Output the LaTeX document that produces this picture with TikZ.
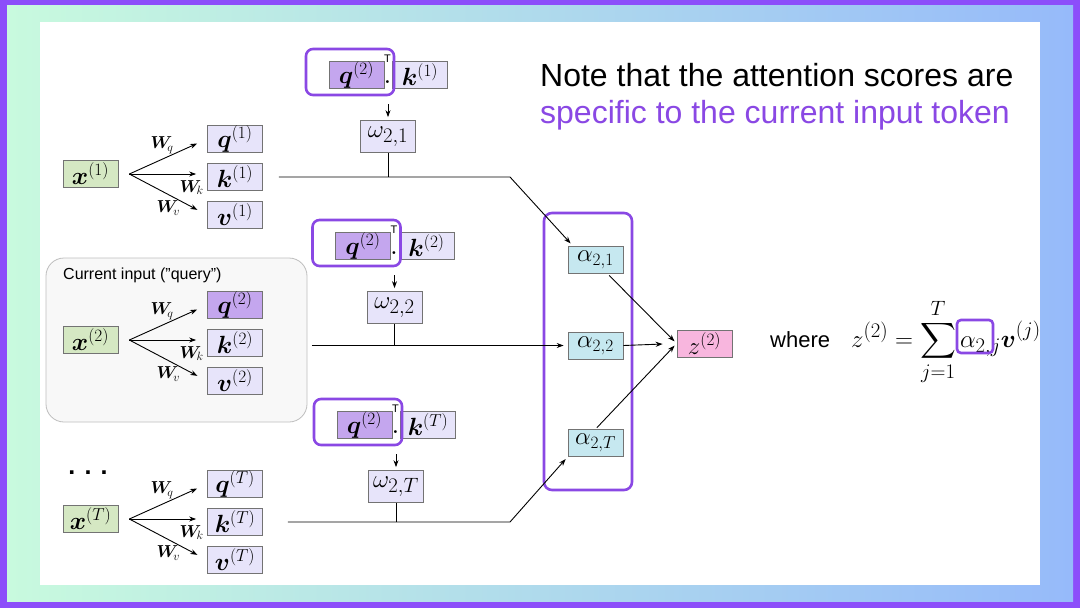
\documentclass[tikz,border=0pt]{standalone}
\usepackage{amsmath,bm}
\usepackage{fontspec}
\setsansfont{Liberation Sans}
\usetikzlibrary{arrows.meta,calc}
\definecolor{framepurple}{RGB}{140,78,250}
\definecolor{mint}{RGB}{200,250,222}
\definecolor{skyblue}{RGB}{150,186,250}
\definecolor{hlpurple}{RGB}{138,72,228}
\definecolor{boxedge}{RGB}{115,115,115}
\definecolor{qkvfill}{RGB}{231,228,250}
\definecolor{qhl}{RGB}{196,166,238}
\definecolor{xgreen}{RGB}{213,232,195}
\definecolor{alphacyan}{RGB}{198,232,240}
\definecolor{zpink}{RGB}{248,182,222}
\definecolor{curfill}{RGB}{248,248,248}
\definecolor{curedge}{RGB}{190,190,190}
\begin{document}
\begin{tikzpicture}[x=1pt,y=-1pt,>={Stealth[length=7pt,width=5pt]},
	vecbox/.style={draw=boxedge,line width=0.7pt,fill=#1,minimum width=55pt,minimum height=27pt,inner sep=0pt,font=\fontsize{24}{26}\selectfont},
	vecbox/.default=qkvfill,
	hlbox/.style={draw=hlpurple,line width=2.6pt,rounded corners=7pt},
	link/.style={line width=0.9pt},
	wlabel/.style={font=\fontsize{17}{17}\selectfont,inner sep=1pt}]
	% Nền và khung
	\useasboundingbox (0,0) rectangle (1080,608);
	\fill[framepurple] (0,0) rectangle (1080,608);
	\shade[left color=mint,right color=skyblue] (7,5) rectangle (1073,601);
	\fill[white] (40,22) rectangle (1040,585);
	% Khung đầu vào hiện tại
	\draw[draw=curedge,fill=curfill,line width=0.8pt,rounded corners=18pt] (46,258) rectangle (307,422);
	\node[anchor=base west,inner sep=0pt,font=\sffamily\fontsize{16}{16}\selectfont] (curlbl) at (63,279) {Current input ("query")};
	% Lệnh vẽ một token: x -> q, k, v
	\def\tokengroup#1#2#3{
		\node[vecbox=xgreen] (x#1) at (90.5,#2-3) {$\bm{x}^{(#1)}$};
		\node[vecbox=#3] (q#1) at (235,#2-38) {$\bm{q}^{(#1)}$};
		\node[vecbox] (k#1) at (235,#2) {$\bm{k}^{(#1)}$};
		\node[vecbox] (v#1) at (235,#2+38) {$\bm{v}^{(#1)}$};
		\coordinate (f#1) at ($(x#1.east)+(11,0)$);
		\draw[link,->,shorten >=11pt] (f#1) -- (q#1.west) node[pos=0.42,above,yshift=4pt,wlabel] {$\bm{W}_{\!q}$};
		\draw[link,->,shorten >=11pt] (f#1) -- (f#1 -| k#1.west) node[pos=0.8,below=5pt,wlabel] {$\bm{W}_{\!k}$};
		\draw[link,->,shorten >=11pt] (f#1) -- (v#1.west) node[pos=0.5,below=5pt,wlabel] {$\bm{W}_{\!v}$};
	}
	\tokengroup{1}{177}{qkvfill}
	\tokengroup{2}{343}{qhl}
	\tokengroup{T}{522}{qkvfill}
	\node[font=\sffamily\bfseries\fontsize{25}{25}\selectfont] (dots) at (88,473) {. . .};
	% Lệnh vẽ tích vô hướng q(2).k -> omega
	\def\scoregroup#1#2#3{
		\node[vecbox=qhl] (qs#1) at (#2,#3) {$\bm{q}^{(2)}$};
		\node[vecbox] (ks#1) at (#2+63.5,#3) {$\bm{k}^{(#1)}$};
		\node[hlbox,minimum width=88pt,minimum height=46pt] (hl#1) at (#2-6.5,#3-2.5) {};
		\node[inner sep=0pt,font=\sffamily\fontsize{11}{11}\selectfont] (tp#1) at (#2+31,#3-16) {T};
		\node[inner sep=0pt,font=\bfseries\fontsize{20}{20}\selectfont] (dt#1) at (#2+31,#3+7.5) {.};
		\node[vecbox,minimum height=32pt,font=\fontsize{28}{30}\selectfont] (om#1) at (#2+31.5,#3+62) {$\omega_{2,#1}$};
		\draw[link,->,shorten <=8pt,shorten >=3pt] (hl#1.south -| om#1.north) -- (om#1.north);
	}
	\scoregroup{1}{356.5}{74.5}
	\scoregroup{2}{363}{245.5}
	\scoregroup{T}{364.5}{424.5}
	% Cột alpha và đầu ra z
	\node[vecbox=alphacyan] (a1) at (595.5,259.5) {$\alpha_{2,1}$};
	\node[vecbox=alphacyan] (a2) at (595.5,345.5) {$\alpha_{2,2}$};
	\node[vecbox=alphacyan] (aT) at (595.5,443) {$\alpha_{2,T}$};
	\draw[hlbox,rounded corners=8pt] (544,213) rectangle (632,490);
	\node[vecbox=zpink] (zz) at (704.5,343.5) {$z^{(2)}$};
	% Các đường nối
	\coordinate (b1) at (510,177);
	\coordinate (bT) at (510,522);
	\draw[link,->,shorten <=16pt,shorten >=3pt] (k1.east) -- (b1) -- ($(a1.north west)+(5,0)$);
	\draw[link] (om1.south) -- (om1.south |- b1);
	\draw[link,->,shorten <=49pt,shorten >=4pt] (a2.west -| k2.east) -- (a2.west);
	\draw[link] (om2.south) -- (om2.south |- a2.west);
	\draw[link,->,shorten <=25pt,shorten >=3pt] (kT.east) -- (bT) -- (aT.south west);
	\draw[link] (omT.south) -- (omT.south |- bT);
	\draw[link,->,shorten <=3pt,shorten >=3pt] (a1.-50) -- (zz.west);
	\draw[link,->,shorten >=14pt] (a2.east) -- (zz.west);
	\draw[link,->,shorten <=2pt,shorten >=3pt] (aT.north) -- (zz.west);
	% Chú thích bên phải
	\node[anchor=base west,inner sep=0pt,font=\sffamily\fontsize{32}{36}\selectfont] (note) at (540,86) {Note that the attention scores are};
	\node[anchor=base west,inner sep=0pt,font=\sffamily\fontsize{32}{36}\selectfont,text=hlpurple] (spec) at (540,123) {specific to the current input token};
	\node[anchor=base west,inner sep=0pt,font=\sffamily\fontsize{22}{26}\selectfont] (where) at (770,347) {where};
	\node[anchor=base west,inner sep=0pt,font=\fontsize{28}{30}\selectfont] (zsum) at (851,347) {$z^{(2)} = \displaystyle\sum_{j=1}^{T} \alpha_{2,j}\bm{v}^{(j)}$};
	\draw[hlbox,rounded corners=4pt] (957,320) rectangle (993,353);
\end{tikzpicture}
\end{document}
